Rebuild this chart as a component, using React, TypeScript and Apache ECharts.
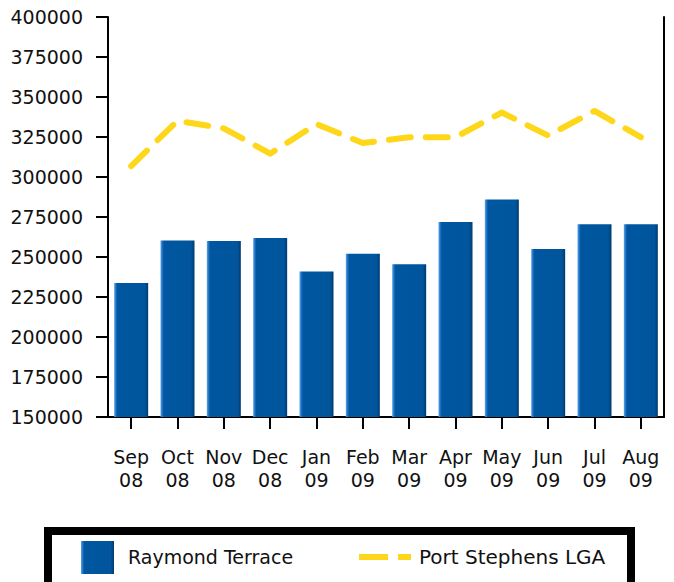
import React, { useEffect, useRef } from 'react';
import * as echarts from 'echarts';

const categories = ['Sep\n08', 'Oct\n08', 'Nov\n08', 'Dec\n08', 'Jan\n09', 'Feb\n09', 'Mar\n09', 'Apr\n09', 'May\n09', 'Jun\n09', 'Jul\n09', 'Aug\n09'];
const raymondTerrace = [233800, 260300, 260000, 261900, 241000, 252000, 245400, 271900, 286000, 255000, 270400, 270400];
const portStephens = [306800, 335200, 330400, 314600, 333100, 321200, 324900, 324900, 340300, 325900, 341300, 324900];
const yMin = 150000;
const yMax = 400000;
const yInterval = 25000;
const seriesNames = ['Raymond Terrace', 'Port Stephens LGA'];

const FONT = 'DejaVu Sans';

export default function App() {
  const ref = useRef<HTMLDivElement>(null);

  useEffect(() => {
    document.body.style.margin = '0';
    if (!ref.current) return;
    const chart = echarts.init(ref.current, undefined, { renderer: 'svg' });

    const barFill = new echarts.graphic.LinearGradient(0, 0, 1, 0, [
      { offset: 0, color: '#5aa6ee' },
      { offset: 0.06, color: '#1a6cbc' },
      { offset: 0.1, color: '#00579f' },
      { offset: 0.9, color: '#00559c' },
      { offset: 1, color: '#003b70' },
    ]);

    const axisLineStyle = { color: '#000', width: 2 };

    chart.setOption({
      animation: false,
      backgroundColor: '#fff',
      grid: { left: 108, top: 17, width: 556, height: 400, containLabel: false },
      xAxis: {
        type: 'category',
        data: categories,
        axisLine: { show: true, lineStyle: axisLineStyle },
        axisTick: { show: true, alignWithLabel: true, length: 12, lineStyle: axisLineStyle },
        axisLabel: {
          margin: 28,
          fontFamily: FONT,
          fontSize: 19,
          lineHeight: 23,
          color: '#111',
          interval: 0,
        },
        splitLine: { show: false },
      },
      yAxis: [
        {
          type: 'value',
          min: yMin,
          max: yMax,
          interval: yInterval,
          axisLine: { show: true, lineStyle: axisLineStyle },
          axisTick: { show: true, length: 12, lineStyle: axisLineStyle },
          axisLabel: {
            margin: 25,
            fontFamily: FONT,
            fontSize: 19,
            color: '#111',
            formatter: (v: number) => String(v),
          },
          splitLine: { show: false },
        },
        {
          type: 'value',
          position: 'right',
          min: yMin,
          max: yMax,
          interval: yInterval,
          axisLine: { show: true, lineStyle: axisLineStyle },
          axisTick: { show: false },
          axisLabel: { show: false },
          splitLine: { show: false },
        },
      ],
      series: [
        {
          name: seriesNames[0],
          type: 'bar',
          data: raymondTerrace,
          barWidth: 34,
          itemStyle: { color: barFill },
        },
        {
          name: seriesNames[1],
          type: 'line',
          data: portStephens,
          symbol: 'none',
          lineStyle: { color: '#ffd71a', width: 6, type: [22, 15], cap: 'round', join: 'round' },
          z: 5,
        },
      ],
      graphic: [
        {
          type: 'rect',
          shape: { x: 48, y: 531, width: 583, height: 56 },
          style: { fill: '#fff', stroke: '#000', lineWidth: 8 },
        },
        {
          type: 'rect',
          shape: { x: 81, y: 541, width: 33, height: 33 },
          style: { fill: barFill },
        },
        {
          type: 'text',
          x: 128,
          y: 557,
          style: { text: seriesNames[0], fontFamily: FONT, fontSize: 19, fill: '#111', verticalAlign: 'middle', align: 'left' },
        },
        {
          type: 'rect',
          shape: { x: 359, y: 554, width: 29, height: 6 },
          style: { fill: '#ffd71a' },
        },
        {
          type: 'rect',
          shape: { x: 398, y: 554, width: 13, height: 6 },
          style: { fill: '#ffd71a' },
        },
        {
          type: 'text',
          x: 419,
          y: 557,
          style: { text: seriesNames[1], fontFamily: FONT, fontSize: 20, fill: '#111', verticalAlign: 'middle', align: 'left' },
        },
      ],
    });

    return () => chart.dispose();
  }, []);

  return <div ref={ref} style={{ width: 674, height: 582 }} />;
}
